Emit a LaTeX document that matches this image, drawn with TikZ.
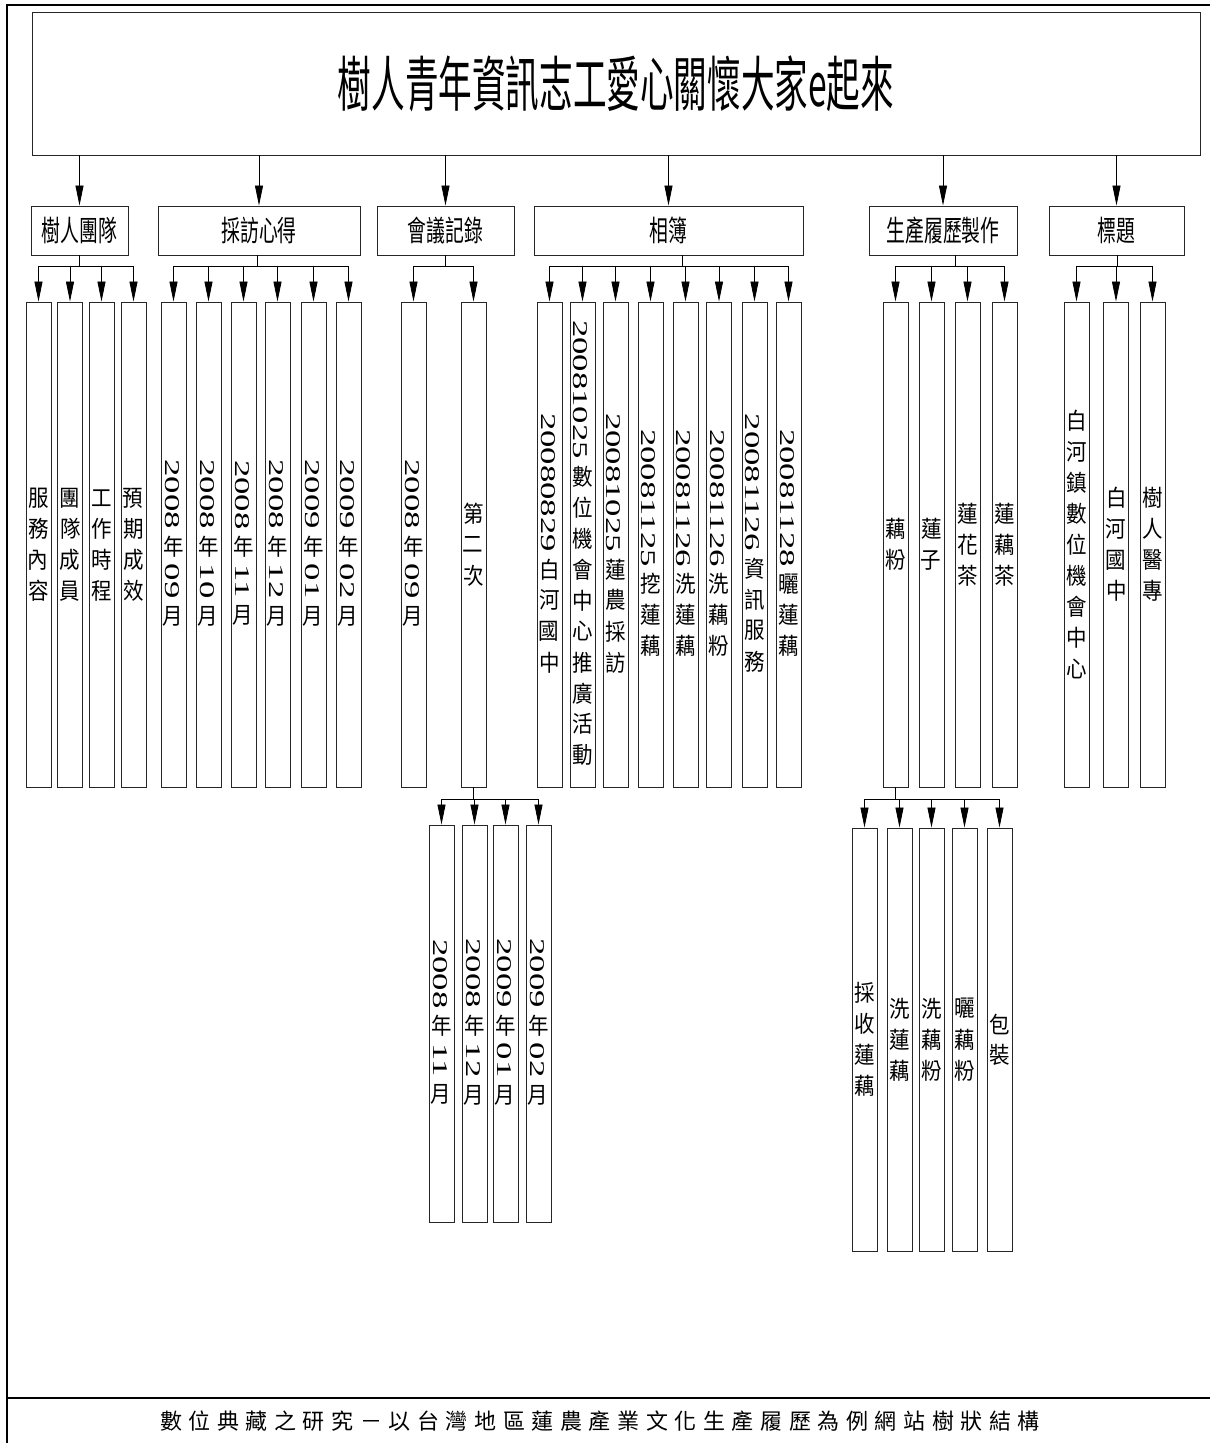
\documentclass[tikz,border=0pt]{standalone}
\usepackage{graphicx}
\usepackage{fontspec}
\setmainfont{Liberation Serif}
\newfontfamily\cjk{Noto Sans CJK TC}
\newfontfamily\cjknarrow[FakeStretch=0.65]{Noto Sans CJK TC}
\newfontfamily\titlefont[FakeStretch=0.56]{Noto Sans CJK TC}
\newfontfamily\numfont[FakeStretch=1.65]{Liberation Serif}
\newfontfamily\capfont[LetterSpace=30]{Noto Sans CJK TC}
\usetikzlibrary{arrows.meta}

\newcommand{\dg}[1]{\hspace{2pt}{\numfont\fontsize{21pt}{21pt}\selectfont #1}\hspace{2pt}}
\makeatletter
\newcommand{\vc}[1]{\@tfor\vch:=#1\do{\makebox[31pt]{\rotatebox[origin=c]{90}{\scalebox{1}[1.12]{\vch}}}}}
\makeatother
\newcommand{\vlab}[1]{\rotatebox{-90}{#1}}

\begin{document}
\begin{tikzpicture}[x=1pt,y=-1pt,
  frame/.style={draw=black,line width=2.5pt},
  mainbox/.style={draw=black!85,line width=0.9pt,minimum width=1168pt,minimum height=143pt,inner sep=0pt,font=\titlefont\fontsize{60pt}{60pt}\selectfont},
  group/.style={draw=black!85,line width=0.9pt,minimum height=49pt,inner sep=0pt,font=\cjknarrow\fontsize{29pt}{29pt}\selectfont},
  leaf/.style={draw=black!85,line width=0.9pt,minimum width=25pt,minimum height=485pt,inner sep=0pt,font=\cjk\fontsize{20.5pt}{20.5pt}\selectfont},
  link/.style={draw=black,line width=0.8pt},
  arr/.style={link,-{Triangle[length=20pt,width=8pt]}}
]
\useasboundingbox (0,0) rectangle (1210,1443);
\draw[frame] (1215,5) -- (7,5) -- (7,1450);
\draw[frame] (7,1398) -- (1215,1398);

\node[mainbox] (top) at (616,83.5) {樹人青年資訊志工愛心關懷大家e起來};

\node[group,minimum width=97pt] (team) at (79.5,230.5) {樹人團隊};
\node[group,minimum width=202pt] (interview) at (259,230.5) {採訪心得};
\node[group,minimum width=137pt] (meeting) at (445.5,230.5) {會議記錄};
\node[group,minimum width=269pt] (album) at (668.5,230.5) {相簿};
\node[group,minimum width=148pt] (product) at (943,230.5) {生產履歷製作};
\node[group,minimum width=135pt] (heading) at (1116.5,230.5) {標題};

\node[leaf] (team1) at (38.5,544.5) {\vlab{\vc{服務內容}}};
\node[leaf] (team2) at (70,544.5) {\vlab{\vc{團隊成員}}};
\node[leaf] (team3) at (101.5,544.5) {\vlab{\vc{工作時程}}};
\node[leaf] (team4) at (133.5,544.5) {\vlab{\vc{預期成效}}};

\node[leaf] (int1) at (173.5,544.5) {\vlab{\dg{2008}\vc{年}\dg{09}\vc{月}}};
\node[leaf] (int2) at (208.5,544.5) {\vlab{\dg{2008}\vc{年}\dg{10}\vc{月}}};
\node[leaf] (int3) at (243.5,544.5) {\vlab{\dg{2008}\vc{年}\dg{11}\vc{月}}};
\node[leaf] (int4) at (277.5,544.5) {\vlab{\dg{2008}\vc{年}\dg{12}\vc{月}}};
\node[leaf] (int5) at (313.5,544.5) {\vlab{\dg{2009}\vc{年}\dg{01}\vc{月}}};
\node[leaf] (int6) at (348.5,544.5) {\vlab{\dg{2009}\vc{年}\dg{02}\vc{月}}};

\node[leaf] (meet1) at (413.5,544.5) {\vlab{\dg{2008}\vc{年}\dg{09}\vc{月}}};
\node[leaf] (meet2) at (473.5,544.5) {\vlab{\vc{第二次}}};

\node[leaf] (alb1) at (549.5,544.5) {\vlab{\dg{20080829}\vc{白河國中}}};
\node[leaf] (alb2) at (582.5,544.5) {\vlab{\dg{20081025}\vc{數位機會中心推廣活動}}};
\node[leaf] (alb3) at (615.5,544.5) {\vlab{\dg{20081025}\vc{蓮農採訪}}};
\node[leaf] (alb4) at (650.5,544.5) {\vlab{\dg{20081125}\vc{挖蓮藕}}};
\node[leaf] (alb5) at (685.5,544.5) {\vlab{\dg{20081126}\vc{洗蓮藕}}};
\node[leaf] (alb6) at (719,544.5) {\vlab{\dg{20081126}\vc{洗藕粉}}};
\node[leaf] (alb7) at (754.5,544.5) {\vlab{\dg{20081126}\vc{資訊服務}}};
\node[leaf] (alb8) at (788.5,544.5) {\vlab{\dg{20081128}\vc{曬蓮藕}}};

\node[leaf] (prod1) at (895.5,544.5) {\vlab{\vc{藕粉}}};
\node[leaf] (prod2) at (931.5,544.5) {\vlab{\vc{蓮子}}};
\node[leaf] (prod3) at (967.5,544.5) {\vlab{\vc{蓮花茶}}};
\node[leaf] (prod4) at (1004.5,544.5) {\vlab{\vc{蓮藕茶}}};

\node[leaf] (head1) at (1076.5,544.5) {\vlab{\vc{白河鎮數位機會中心}}};
\node[leaf] (head2) at (1116,544.5) {\vlab{\vc{白河國中}}};
\node[leaf] (head3) at (1152.5,544.5) {\vlab{\vc{樹人醫專}}};

\node[leaf,minimum height=397pt] (sec1) at (441.5,1023.5) {\vlab{\dg{2008}\vc{年}\dg{11}\vc{月}}};
\node[leaf,minimum height=397pt] (sec2) at (474.5,1023.5) {\vlab{\dg{2008}\vc{年}\dg{12}\vc{月}}};
\node[leaf,minimum height=397pt] (sec3) at (505.5,1023.5) {\vlab{\dg{2009}\vc{年}\dg{01}\vc{月}}};
\node[leaf,minimum height=397pt] (sec4) at (538.5,1023.5) {\vlab{\dg{2009}\vc{年}\dg{02}\vc{月}}};

\node[leaf,minimum height=423pt] (pow1) at (864.5,1039.5) {\vlab{\vc{採收蓮藕}}};
\node[leaf,minimum height=423pt] (pow2) at (899.5,1039.5) {\vlab{\vc{洗蓮藕}}};
\node[leaf,minimum height=423pt] (pow3) at (931.5,1039.5) {\vlab{\vc{洗藕粉}}};
\node[leaf,minimum height=423pt] (pow4) at (964.5,1039.5) {\vlab{\vc{曬藕粉}}};
\node[leaf,minimum height=423pt] (pow5) at (999.5,1039.5) {\vlab{\vc{包裝}}};

\node[font=\capfont\fontsize{22pt}{22pt}\selectfont] (caption) at (600,1421) {數位典藏之研究－以台灣地區蓮農產業文化生產履歷為例網站樹狀結構};

\draw[arr] (top.south -| team.north) -- (team.north);
\draw[arr] (top.south -| interview.north) -- (interview.north);
\draw[arr] (top.south -| meeting.north) -- (meeting.north);
\draw[arr] (top.south -| album.north) -- (album.north);
\draw[arr] (top.south -| product.north) -- (product.north);
\draw[arr] (top.south -| heading.north) -- (heading.north);

\coordinate (teamj) at ([yshift=-11pt]team.south);
\coordinate (intj) at ([xshift=-2pt,yshift=-11pt]interview.south);
\coordinate (meetj) at ([yshift=-11pt]meeting.south);
\coordinate (albj) at ([xshift=14pt,yshift=-11pt]album.south);
\coordinate (prodj) at ([xshift=12pt,yshift=-11pt]product.south);
\coordinate (headj) at ([xshift=1pt,yshift=-11pt]heading.south);
\coordinate (secj) at ([yshift=-12pt]meet2.south);
\coordinate (powj) at ([yshift=-12pt]prod1.south);

\draw[link] (teamj |- team.south) -- (teamj) (team1.north |- teamj) -- (team4.north |- teamj)
  (team1.north |- teamj) edge[arr] (team1.north) (team2.north |- teamj) edge[arr] (team2.north)
  (team3.north |- teamj) edge[arr] (team3.north) (team4.north |- teamj) edge[arr] (team4.north);
\draw[link] (intj |- interview.south) -- (intj) (int1.north |- intj) -- (int6.north |- intj)
  (int1.north |- intj) edge[arr] (int1.north) (int2.north |- intj) edge[arr] (int2.north)
  (int3.north |- intj) edge[arr] (int3.north) (int4.north |- intj) edge[arr] (int4.north)
  (int5.north |- intj) edge[arr] (int5.north) (int6.north |- intj) edge[arr] (int6.north);
\draw[link] (meetj |- meeting.south) -- (meetj) (meet1.north |- meetj) -- (meet2.north |- meetj)
  (meet1.north |- meetj) edge[arr] (meet1.north) (meet2.north |- meetj) edge[arr] (meet2.north);
\draw[link] (albj |- album.south) -- (albj) (alb1.north |- albj) -- (alb8.north |- albj)
  (alb1.north |- albj) edge[arr] (alb1.north) (alb2.north |- albj) edge[arr] (alb2.north)
  (alb3.north |- albj) edge[arr] (alb3.north) (alb4.north |- albj) edge[arr] (alb4.north)
  (alb5.north |- albj) edge[arr] (alb5.north) (alb6.north |- albj) edge[arr] (alb6.north)
  (alb7.north |- albj) edge[arr] (alb7.north) (alb8.north |- albj) edge[arr] (alb8.north);
\draw[link] (prodj |- product.south) -- (prodj) (prod1.north |- prodj) -- (prod4.north |- prodj)
  (prod1.north |- prodj) edge[arr] (prod1.north) (prod2.north |- prodj) edge[arr] (prod2.north)
  (prod3.north |- prodj) edge[arr] (prod3.north) (prod4.north |- prodj) edge[arr] (prod4.north);
\draw[link] (headj |- heading.south) -- (headj) (head1.north |- headj) -- (head3.north |- headj)
  (head1.north |- headj) edge[arr] (head1.north) (head2.north |- headj) edge[arr] (head2.north)
  (head3.north |- headj) edge[arr] (head3.north);
\draw[link] (meet2.south) -- (secj) (sec1.north |- secj) -- (sec4.north |- secj)
  (sec1.north |- secj) edge[arr] (sec1.north) (sec2.north |- secj) edge[arr] (sec2.north)
  (sec3.north |- secj) edge[arr] (sec3.north) (sec4.north |- secj) edge[arr] (sec4.north);
\draw[link] (prod1.south) -- (powj) (pow1.north |- powj) -- (pow5.north |- powj)
  (pow1.north |- powj) edge[arr] (pow1.north) (pow2.north |- powj) edge[arr] (pow2.north)
  (pow3.north |- powj) edge[arr] (pow3.north) (pow4.north |- powj) edge[arr] (pow4.north)
  (pow5.north |- powj) edge[arr] (pow5.north);
\end{tikzpicture}
\end{document}
